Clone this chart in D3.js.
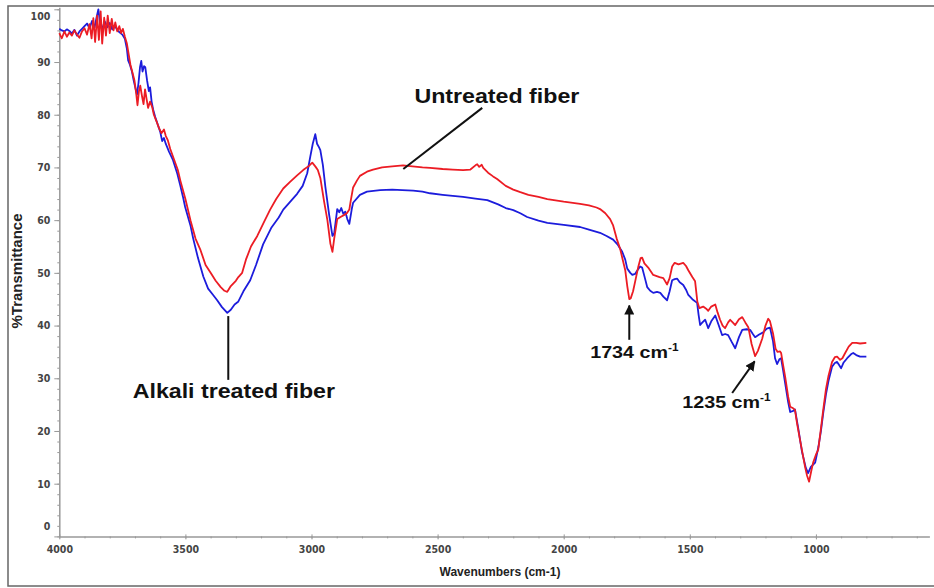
<!DOCTYPE html>
<html>
<head>
<meta charset="utf-8">
<script src="https://cdn.jsdelivr.net/npm/d3@7/dist/d3.min.js"></script>
<style>
  body { margin: 0; background: #fff; }
  .tick text { font-family: "Liberation Sans Narrow", "Arial Narrow", "DejaVu Sans Condensed", sans-serif; font-weight: bold; font-size: 10.5px; fill: #444; }
  .axis path, .axis line { stroke: #999; }
  .note { font-family: "Liberation Sans", Arial, sans-serif; font-weight: bold; fill: #111; }
</style>
</head>
<body>
<div id="chart"></div>
<script>
// svg size
var svgWidth = 934;
var svgHeight = 588;

// plot area (pixel edges of the axes)
var plot = { left: 59.3, right: 929.4, top: 7.2, bottom: 536.4 };

// ---------------- data ----------------
// wavenumber (cm-1), %T  -- untreated fiber (red)
var untreated = [
  [4000,95.5],[3990,94.5],[3980,95.8],[3970,94.8],[3960,95.6],[3950,95.0],[3940,96.0],[3930,95.2],
  [3920,94.6],[3910,95.8],[3900,96.4],[3890,95.2],[3880,97.2],[3872,94.5],[3865,98.3],[3858,93.8],
  [3850,98.8],[3843,94.2],[3836,99.6],[3830,93.5],[3822,98.4],[3815,95.0],[3808,98.8],[3800,95.5],
  [3792,98.2],[3785,96.0],[3778,97.5],[3770,95.8],[3762,96.8],[3755,95.5],[3748,96.3],[3740,94.8],
  [3732,93.5],[3725,91.5],[3718,89.5],[3710,88.0],[3702,86.5],[3695,84.0],[3690,81.8],[3684,84.5],
  [3679,85.5],[3672,83.5],[3666,82.0],[3660,84.8],[3654,83.0],[3648,81.3],[3640,82.5],[3632,81.5],
  [3625,80.0],[3615,78.8],[3605,77.5],[3595,76.5],[3585,77.2],[3578,76.0],[3570,75.2],[3560,73.5],
  [3545,71.5],[3530,69.5],[3520,67.5],[3500,64.0],[3480,60.0],[3460,56.5],[3440,54.3],[3420,51.5],
  [3400,50.0],[3380,48.5],[3360,47.3],[3345,46.6],[3334,46.4],[3320,47.5],[3300,48.5],[3290,49.2],
  [3275,50.0],[3260,52.5],[3240,55.0],[3215,57.0],[3190,59.5],[3164,62.0],[3140,64.0],[3112,66.0],
  [3084,67.3],[3057,68.5],[3033,69.5],[3010,70.3],[2997,70.9],[2985,70.2],[2975,69.5],[2965,68.0],
  [2950,63.5],[2937,60.0],[2925,55.5],[2917,54.0],[2910,56.5],[2898,60.2],[2885,60.6],[2870,61.0],
  [2860,61.3],[2850,62.0],[2845,63.5],[2835,66.2],[2820,67.5],[2808,68.4],[2780,69.2],[2756,69.6],
  [2720,70.0],[2680,70.2],[2637,70.4],[2600,70.2],[2560,70.0],[2530,69.9],[2480,69.7],[2440,69.6],
  [2399,69.5],[2370,69.6],[2350,70.4],[2343,70.6],[2335,70.1],[2325,70.5],[2319,69.9],[2300,69.0],
  [2280,68.3],[2264,67.8],[2230,66.5],[2200,65.8],[2172,65.3],[2140,64.8],[2100,64.4],[2065,64.0],
  [2000,63.5],[1935,63.1],[1900,62.8],[1870,62.4],[1856,62.1],[1835,61.3],[1816,60.2],[1804,59.0],
  [1790,56.5],[1776,54.5],[1766,52.5],[1756,50.5],[1748,47.5],[1740,45.0],[1734,45.2],[1725,46.5],
  [1717,48.3],[1705,51.0],[1695,52.8],[1689,52.9],[1680,51.8],[1665,51.0],[1645,49.6],[1620,49.2],
  [1605,49.0],[1590,47.8],[1580,49.0],[1570,51.2],[1560,51.9],[1545,51.6],[1526,51.9],[1515,51.3],
  [1506,50.5],[1490,49.2],[1479,48.4],[1470,44.5],[1462,43.3],[1447,43.6],[1435,43.2],[1427,42.8],
  [1415,43.6],[1399,44.0],[1390,42.5],[1380,41.1],[1370,40.0],[1360,39.5],[1348,40.6],[1340,41.1],
  [1330,40.6],[1320,40.1],[1305,41.2],[1292,41.6],[1280,40.6],[1268,39.7],[1255,36.5],[1241,34.2],
  [1230,35.2],[1213,37.5],[1200,40.0],[1189,41.3],[1182,40.8],[1170,38.5],[1160,35.6],[1152,35.0],
  [1142,35.1],[1138,34.8],[1130,32.5],[1122,30.3],[1110,26.5],[1102,24.6],[1090,24.3],[1083,24.0],
  [1075,21.5],[1063,18.3],[1050,15.0],[1043,13.2],[1035,11.5],[1027,10.4],[1018,12.5],[1011,14.0],
  [1000,15.5],[991,16.4],[980,20.5],[971,24.0],[960,28.0],[950,30.5],[936,33.1],[925,34.0],
  [916,34.1],[904,33.5],[895,33.8],[884,34.8],[870,36.0],[856,36.7],[840,36.7],[825,36.6],[800,36.7]
];

// wavenumber (cm-1), %T  -- alkali treated fiber (blue)
var alkali = [
  [4000,96.3],[3990,96.0],[3980,95.8],[3970,96.2],[3960,95.9],[3950,95.4],[3940,96.1],[3930,95.0],
  [3920,95.8],[3910,96.3],[3900,96.8],[3890,97.3],[3880,96.4],[3870,97.8],[3860,96.6],[3852,98.5],
  [3845,100.0],[3838,97.2],[3830,96.3],[3820,97.7],[3810,96.6],[3800,97.4],[3790,96.2],[3780,97.0],
  [3770,96.0],[3760,95.6],[3750,95.2],[3740,94.4],[3732,92.5],[3727,90.3],[3720,89.5],[3712,88.2],
  [3705,86.5],[3698,85.0],[3692,83.8],[3686,86.0],[3680,89.0],[3675,90.2],[3670,88.2],[3664,89.2],
  [3659,89.0],[3652,86.5],[3645,84.5],[3640,85.2],[3634,82.5],[3628,81.0],[3620,79.6],[3610,78.2],
  [3600,76.8],[3592,75.0],[3585,75.6],[3578,74.5],[3565,73.0],[3550,71.5],[3532,68.8],[3520,66.5],
  [3510,64.5],[3501,62.5],[3480,59.0],[3469,56.5],[3450,52.8],[3429,49.3],[3410,47.0],[3390,45.8],
  [3374,44.8],[3355,43.5],[3334,42.4],[3320,43.0],[3305,44.0],[3291,44.5],[3270,46.5],[3243,48.6],
  [3220,51.5],[3192,55.4],[3160,58.5],[3130,60.5],[3112,62.0],[3084,63.5],[3057,65.0],[3035,66.5],
  [3017,68.9],[3005,72.0],[2995,74.5],[2985,76.3],[2978,74.5],[2970,73.8],[2965,73.3],[2955,70.5],
  [2945,66.3],[2930,61.0],[2917,57.0],[2910,57.5],[2898,62.1],[2890,61.5],[2882,62.3],[2874,61.2],
  [2866,61.6],[2858,60.2],[2850,59.3],[2840,62.2],[2835,63.3],[2808,64.8],[2780,65.4],[2728,65.7],
  [2680,65.8],[2640,65.7],[2597,65.6],[2560,65.4],[2530,65.1],[2480,64.8],[2440,64.6],[2399,64.4],
  [2350,64.1],[2303,63.8],[2260,63.0],[2230,62.3],[2200,61.9],[2172,61.3],[2145,60.6],[2100,59.9],
  [2065,59.5],[2000,59.1],[1935,58.7],[1900,58.2],[1856,57.6],[1830,57.0],[1804,56.3],[1785,55.3],
  [1768,54.0],[1756,52.5],[1748,50.8],[1736,50.0],[1728,49.6],[1717,49.8],[1709,50.4],[1697,51.2],
  [1689,51.0],[1678,49.0],[1669,47.3],[1657,46.6],[1645,46.2],[1630,46.4],[1617,46.2],[1605,45.5],
  [1590,44.8],[1580,46.5],[1570,48.6],[1560,48.8],[1550,48.9],[1540,48.2],[1526,47.7],[1515,46.8],
  [1506,45.8],[1490,45.0],[1471,44.3],[1465,42.0],[1459,40.1],[1450,40.6],[1439,41.1],[1427,39.5],
  [1415,40.8],[1399,41.9],[1385,40.0],[1372,38.2],[1360,38.4],[1348,38.2],[1335,37.0],[1320,35.7],
  [1305,37.8],[1292,39.2],[1275,39.3],[1261,39.2],[1250,38.4],[1241,37.8],[1225,38.3],[1209,38.7],
  [1195,39.4],[1182,39.6],[1170,37.0],[1162,33.8],[1154,32.7],[1145,33.6],[1138,33.8],[1130,31.5],
  [1122,29.1],[1110,25.5],[1102,23.6],[1090,23.8],[1083,24.1],[1070,20.5],[1055,16.0],[1040,13.0],
  [1031,12.0],[1020,13.2],[1003,14.0],[990,17.0],[980,20.0],[971,23.4],[960,27.0],[950,29.5],
  [936,32.2],[925,32.9],[916,33.1],[908,32.5],[900,31.9],[890,33.0],[876,33.8],[860,34.6],
  [852,34.8],[840,34.4],[825,34.1],[800,34.1]
];

// axis ticks
var xMajorTicks = [4000, 3500, 3000, 2500, 2000, 1500, 1000];
var xMinorTicks = d3.range(4000, 550, -100);
var yMajorTicks = [0, 10, 20, 30, 40, 50, 60, 70, 80, 90, 100];
var yMinorTicks = d3.range(0, 101, 2);

// ---------------- chart ----------------
var svg = d3.select("#chart")
    .append("svg")
    .attr("width", svgWidth)
    .attr("height", svgHeight);

// outer frame of the figure
svg.append("rect")
    .attr("x", 8)
    .attr("y", 6)
    .attr("width", 940)
    .attr("height", 580)
    .attr("fill", "none")
    .attr("stroke", "#666")
    .attr("stroke-width", 1.5);

var xScale = d3.scaleLinear()
    .domain([4000, 550])
    .range([plot.left, plot.right]);

var yScale = d3.scaleLinear()
    .domain([0, 100.4])
    .range([plot.bottom, plot.top]);

// minor ticks first
svg.append("g")
    .attr("class", "axis")
    .attr("transform", `translate(0, ${plot.bottom})`)
    .call(d3.axisBottom(xScale).tickValues(xMinorTicks).tickSize(2).tickFormat(""))
    .call(g => g.select(".domain").remove());

svg.append("g")
    .attr("class", "axis")
    .attr("transform", `translate(${plot.left}, 0)`)
    .call(d3.axisLeft(yScale).tickValues(yMinorTicks).tickSize(2).tickFormat(""))
    .call(g => g.select(".domain").remove());

// major x axis
var xAxis = svg.append("g")
    .attr("class", "axis")
    .attr("transform", `translate(0, ${plot.bottom})`)
    .call(d3.axisBottom(xScale).tickValues(xMajorTicks).tickFormat(d3.format("d"))
        .tickSize(3).tickSizeOuter(0).tickPadding(6));
xAxis.selectAll(".tick line").attr("y1", -2);
xAxis.select(".domain").attr("stroke-width", 1.5);

// major y axis
var yAxis = svg.append("g")
    .attr("class", "axis")
    .attr("transform", `translate(${plot.left}, 0)`)
    .call(d3.axisLeft(yScale).tickValues(yMajorTicks).tickFormat(d3.format("d"))
        .tickSize(5).tickSizeOuter(0).tickPadding(4));
yAxis.select(".domain").attr("stroke-width", 1.5);
// end labels pulled inside, as in the original
yAxis.selectAll(".tick").filter(d => d === 100).select("text").attr("y", 7);
yAxis.selectAll(".tick").filter(d => d === 0).select("text").attr("y", -10);

// axis titles
svg.append("text")
    .attr("x", 500)
    .attr("y", 576)
    .attr("text-anchor", "middle")
    .style("font-family", "'Liberation Sans Narrow', 'Arial Narrow', sans-serif")
    .style("font-weight", "bold")
    .style("font-size", "12px")
    .style("fill", "#222")
    .text("Wavenumbers (cm-1)");

svg.append("text")
    .attr("transform", "translate(22, 271) rotate(-90)")
    .attr("text-anchor", "middle")
    .style("font-family", "'Liberation Sans', Arial, sans-serif")
    .style("font-weight", "bold")
    .style("font-size", "15px")
    .style("fill", "#222")
    .text("%Transmittance");

// spectra
var line = d3.line()
    .x(d => xScale(d[0]))
    .y(d => yScale(d[1]));

svg.append("path")
    .datum(alkali)
    .attr("fill", "none")
    .attr("stroke", "#1c1cdc")
    .attr("stroke-width", 1.8)
    .attr("stroke-linejoin", "round")
    .attr("d", line);

svg.append("path")
    .datum(untreated)
    .attr("fill", "none")
    .attr("stroke", "#ec1c24")
    .attr("stroke-width", 1.8)
    .attr("stroke-linejoin", "round")
    .attr("d", line);

// ---------------- annotations ----------------
svg.append("defs").append("marker")
    .attr("id", "arrow")
    .attr("viewBox", "0 0 10 10")
    .attr("refX", 9)
    .attr("refY", 5)
    .attr("markerWidth", 5)
    .attr("markerHeight", 5)
    .attr("orient", "auto")
    .append("path")
    .attr("d", "M0,0 L10,5 L0,10 z")
    .attr("fill", "#111");

function leader(w1, t1, w2, t2, arrow) {
    var l = svg.append("line")
        .attr("x1", xScale(w1)).attr("y1", yScale(t1))
        .attr("x2", xScale(w2)).attr("y2", yScale(t2))
        .attr("stroke", "#111")
        .attr("stroke-width", 2);
    if (arrow) l.attr("marker-end", "url(#arrow)");
}

// the original figure is stretched a little sideways, so the labels are too
function note(w, t, txt, size, anchor, sup) {
    var el = svg.append("text")
        .attr("class", "note")
        .attr("transform", `translate(${xScale(w)}, ${yScale(t)}) scale(1.16, 1)`)
        .attr("text-anchor", anchor)
        .style("font-size", size + "px")
        .text(txt);
    if (sup) {
        el.append("tspan")
            .attr("dy", -7)
            .style("font-size", (size * 0.6) + "px")
            .text(sup);
    }
}

// untreated fiber
leader(2636, 69.7, 2323, 81.3, false);
note(2265, 82.2, "Untreated fiber", 20, "middle");

// alkali treated fiber
leader(3330, 41.8, 3330, 29.7, false);
note(3308, 26.3, "Alkali treated fiber", 20, "middle");

// 1734 cm-1
leader(1740, 37.3, 1740, 43.8, true);
note(1895, 33.8, "1734 cm", 17, "start", "-1");

// 1235 cm-1
leader(1332, 27.2, 1243, 33.2, true);
note(1530, 24.4, "1235 cm", 17, "start", "-1");
</script>
</body>
</html>
